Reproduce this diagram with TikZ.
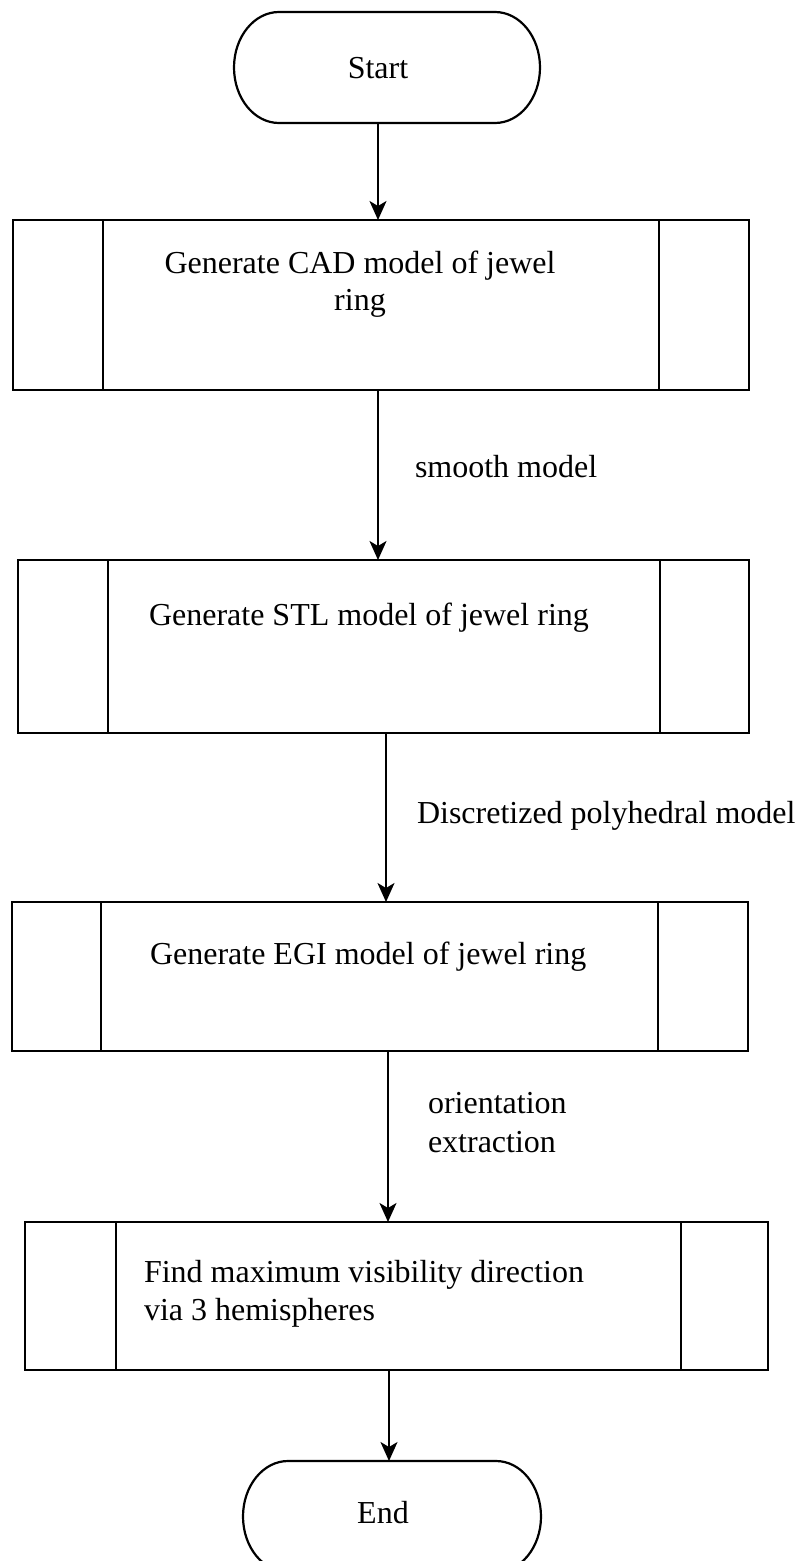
\documentclass[tikz,border=0pt]{standalone}
\usepackage{fontspec}
\setmainfont{Liberation Serif}
\usetikzlibrary{arrows.meta}

\tikzset{
  procbox/.style={draw, line width=2.4pt, inner sep=0pt, outer sep=0pt, rectangle},
  termshape/.style={inner sep=0pt, outer sep=0pt, rectangle, minimum width=#1, minimum height=111pt},
  outline/.style={line width=2.2pt},
  sideline/.style={line width=2.1pt},
  flow/.style={line width=1.8pt, -{Stealth[length=19pt,width=17pt,inset=5pt]}},
  txt/.style={inner sep=0pt, outer sep=0pt, font=\fontsize{32}{38}\selectfont},
}

% draws the rounded ends of a terminal node
\newcommand{\terminalpath}[1]{%
  \draw[outline] ([xshift=45pt]#1.north west) -- ([xshift=-45pt]#1.north east)
    arc[start angle=90,end angle=-90,x radius=45pt,y radius=55.5pt]
    -- ([xshift=45pt]#1.south west)
    arc[start angle=270,end angle=90,x radius=45pt,y radius=55.5pt] -- cycle;}

% draws the two side bars of a predefined-process box
\newcommand{\sidebars}[3]{%
  \draw[sideline] ([xshift=#2pt]#1.north west) -- ([xshift=#2pt]#1.south west);
  \draw[sideline] ([xshift=-#3pt]#1.north east) -- ([xshift=-#3pt]#1.south east);}

\begin{document}
\begin{tikzpicture}[x=1pt,y=-1pt]
\useasboundingbox[fill=white] (0,0) rectangle (809,1561);

% terminals
\node[termshape=306pt] (start) at (387,67.5) {};
\terminalpath{start}
\node[txt, anchor=base] (starttxt) at (378,78) {Start};

\node[termshape=298pt] (end) at (392,1516.5) {};
\terminalpath{end}
\node[txt, anchor=base] (endtxt) at (383,1523) {End};

% process boxes
\node[procbox, minimum width=736pt, minimum height=170pt] (b1) at (381,305) {};
\sidebars{b1}{90}{90}
\node[txt, anchor=base] (t1a) at (360,273) {Generate CAD model of jewel};
\node[txt, anchor=base] (t1b) at (360,310) {ring};

\node[procbox, minimum width=731pt, minimum height=173pt] (b2) at (383.5,646.5) {};
\sidebars{b2}{90}{89}
\node[txt, anchor=base west] (t2) at (149,625) {Generate STL model of jewel ring};

\node[procbox, minimum width=736pt, minimum height=149pt] (b3) at (380,976.5) {};
\sidebars{b3}{89}{90}
\node[txt, anchor=base west] (t3) at (150,964) {Generate EGI model of jewel ring};

\node[procbox, minimum width=743pt, minimum height=148pt] (b4) at (396.5,1296) {};
\sidebars{b4}{91}{87}
\node[txt, anchor=base west] (t4a) at (144,1282) {Find maximum visibility direction};
\node[txt, anchor=base west] (t4b) at (144,1320) {via 3 hemispheres};

% connectors
\draw[flow] (start.south -| 378,0) -- (b1.north -| 378,0);
\draw[flow] (b1.south -| 378,0) -- (b2.north -| 378,0);
\draw[flow] (b2.south -| 386,0) -- (b3.north -| 386,0);
\draw[flow] (b3.south -| 388,0) -- (b4.north -| 388,0);
\draw[flow] (b4.south -| 389,0) -- (end.north -| 389,0);

% connector labels
\node[txt, anchor=base west] (l1) at (415,477) {smooth model};
\node[txt, anchor=base west] (l2) at (417,823) {Discretized polyhedral model};
\node[txt, anchor=base west] (l3a) at (428,1113) {orientation};
\node[txt, anchor=base west] (l3b) at (428,1152) {extraction};
\end{tikzpicture}
\end{document}
